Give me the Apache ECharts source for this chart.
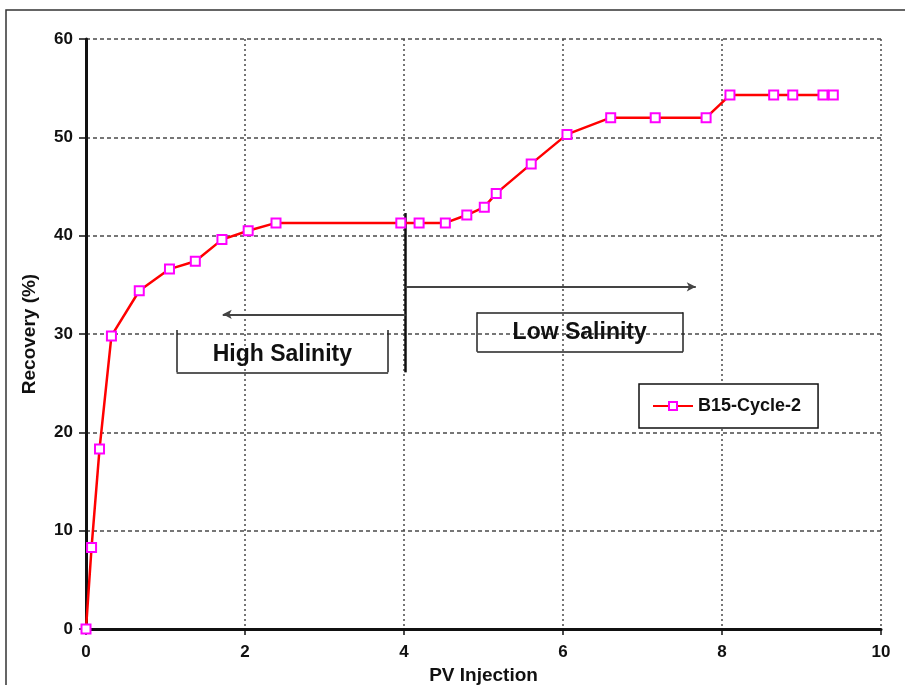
<!DOCTYPE html>
<html>
<head>
<meta charset="utf-8">
<script src="https://cdn.jsdelivr.net/npm/echarts@6/dist/echarts.min.js"></script>
<style>
  html, body { margin: 0; padding: 0; background: #fff; overflow: hidden; }
  #chart { width: 905px; height: 685px; }
</style>
</head>
<body>
<div id="chart"></div>
<script>
// Oil recovery vs. pore volumes injected, core B15, cycle 2
const pvInjection = [0, 0.07, 0.17, 0.32, 0.67, 1.05, 1.375, 1.71, 2.04, 2.39, 3.96, 4.19, 4.52, 4.79, 5.01, 5.16, 5.60, 6.05, 6.60, 7.16, 7.80, 8.10, 8.65, 8.89, 9.27, 9.40];
const recovery    = [0, 8.3, 18.3, 29.8, 34.4, 36.6, 37.4, 39.6, 40.5, 41.3, 41.3, 41.3, 41.3, 42.1, 42.9, 44.3, 47.3, 50.3, 52.0, 52.0, 52.0, 54.3, 54.3, 54.3, 54.3, 54.3];
const seriesName = 'B15-Cycle-2';

const xTicks = [0, 2, 4, 6, 8, 10];
const yTicks = [0, 10, 20, 30, 40, 50, 60];

// Switch from high- to low-salinity brine (PV) and arrow extents
const switchPV = 4.02;
const switchSpan = [26.1, 42.3];
const lowArrow = { from: 4.02, to: 7.67, y: 34.8 };
const highArrow = { from: 4.02, to: 1.72, y: 32.0 };

// Region label boxes in data units: [x0, x1, y0, y1]
const highBox = [1.14, 3.80, 26.1, 30.4];
const lowBox = [4.92, 7.51, 28.2, 32.2];
const highLabel = { text: 'High Salinity', at: [2.47, 27.9] };
const lowLabel = { text: 'Low Salinity', at: [6.21, 30.15] };

const points = pvInjection.map((x, i) => [x, recovery[i]]);

const boxStyle = { color: '#222', width: 1.5, type: 'solid' };
function seg(a, b, style, sym) {
  return [
    { coord: a, symbol: 'none', lineStyle: style },
    { coord: b, symbol: sym || 'none', lineStyle: style }
  ];
}

const markLines = [
  seg([switchPV, switchSpan[0]], [switchPV, switchSpan[1]], { color: '#111', width: 2.5, type: 'solid' }),
  seg([lowArrow.from, lowArrow.y], [lowArrow.to, lowArrow.y], { color: '#444', width: 2, type: 'solid' }, 'arrow'),
  seg([highArrow.from, highArrow.y], [highArrow.to, highArrow.y], { color: '#444', width: 2, type: 'solid' }, 'arrow'),
  // High salinity bracket (its top edge sits on the 30 % grid line)
  seg([highBox[0], highBox[3]], [highBox[0], highBox[2]], boxStyle),
  seg([highBox[0], highBox[2]], [highBox[1], highBox[2]], boxStyle),
  seg([highBox[1], highBox[2]], [highBox[1], highBox[3]], boxStyle),
  // Low salinity box
  seg([lowBox[0], lowBox[2]], [lowBox[1], lowBox[2]], boxStyle),
  seg([lowBox[1], lowBox[2]], [lowBox[1], lowBox[3]], boxStyle),
  seg([lowBox[1], lowBox[3]], [lowBox[0], lowBox[3]], boxStyle),
  seg([lowBox[0], lowBox[3]], [lowBox[0], lowBox[2]], boxStyle)
];

const boldFont = 'Liberation Sans, Arial, sans-serif';

const chart = echarts.init(document.getElementById('chart'), null, { renderer: 'canvas', width: 905, height: 685 });

chart.setOption({
  animation: false,
  backgroundColor: '#fff',
  grid: { left: 86, top: 39, width: 795, height: 590, containLabel: false, outerBoundsMode: 'none' },
  legend: {
    data: [seriesName],
    left: 639, top: 384,
    orient: 'vertical',
    backgroundColor: '#fff',
    borderColor: '#111', borderWidth: 1.5, borderRadius: 0,
    padding: [13, 17, 13, 13],
    itemWidth: 40, itemHeight: 10, itemGap: 0,
    textStyle: { fontFamily: boldFont, fontWeight: 'bold', fontSize: 18, color: '#111' }
  },
  xAxis: {
    type: 'value', min: 0, max: 10, interval: 2,
    name: 'PV Injection', nameLocation: 'middle', nameGap: 36,
    nameTextStyle: { fontFamily: boldFont, fontWeight: 'bold', fontSize: 19, color: '#111' },
    axisLine: { show: true, onZero: false, lineStyle: { color: '#111', width: 3 } },
    axisTick: { show: true, length: 6, lineStyle: { color: '#111', width: 1.5 } },
    axisLabel: {
      margin: 15, color: '#111',
      fontFamily: boldFont, fontWeight: 'bold', fontSize: 17,
      customValues: xTicks
    },
    splitLine: { show: true, lineStyle: { color: '#4a4a4a', width: 1.5, type: [2, 3] } }
  },
  yAxis: {
    type: 'value', min: 0, max: 60, interval: 10,
    name: 'Recovery (%)', nameLocation: 'middle', nameGap: 47,
    nameTextStyle: { fontFamily: boldFont, fontWeight: 'bold', fontSize: 19, color: '#111' },
    axisLine: { show: true, onZero: false, lineStyle: { color: '#111', width: 3 } },
    axisTick: { show: true, length: 7, lineStyle: { color: '#111', width: 1.5 } },
    axisLabel: {
      margin: 13, color: '#111',
      fontFamily: boldFont, fontWeight: 'bold', fontSize: 17,
      customValues: yTicks
    },
    splitLine: { show: true, lineStyle: { color: '#4a4a4a', width: 1.5, type: [4, 3] } }
  },
  series: [{
    name: seriesName,
    type: 'line',
    data: points,
    symbol: 'rect',
    symbolSize: 9,
    itemStyle: { color: '#fff', borderColor: '#ff00ff', borderWidth: 2 },
    lineStyle: { color: '#ff0000', width: 2.5 },
    z: 5,
    markLine: {
      silent: true,
      symbolSize: [7, 9],
      label: { show: false },
      emphasis: { disabled: true },
      data: markLines
    }
  }]
});

// Outer frame and the two region captions, placed through the axes' scales
function regionText(lbl) {
  const p = chart.convertToPixel({ gridIndex: 0 }, lbl.at);
  return {
    type: 'text',
    x: p[0], y: p[1],
    silent: true,
    z: 20,
    style: {
      text: lbl.text,
      align: 'center', verticalAlign: 'middle',
      font: 'bold 23px ' + boldFont,
      fill: '#111'
    }
  };
}

chart.setOption({
  graphic: [
    {
      type: 'rect',
      shape: { x: 6, y: 10, width: 1000, height: 1000 },
      style: { fill: 'none', stroke: '#333', lineWidth: 1.5 },
      silent: true,
      z: -10
    },
    regionText(highLabel),
    regionText(lowLabel)
  ]
});
</script>
</body>
</html>
